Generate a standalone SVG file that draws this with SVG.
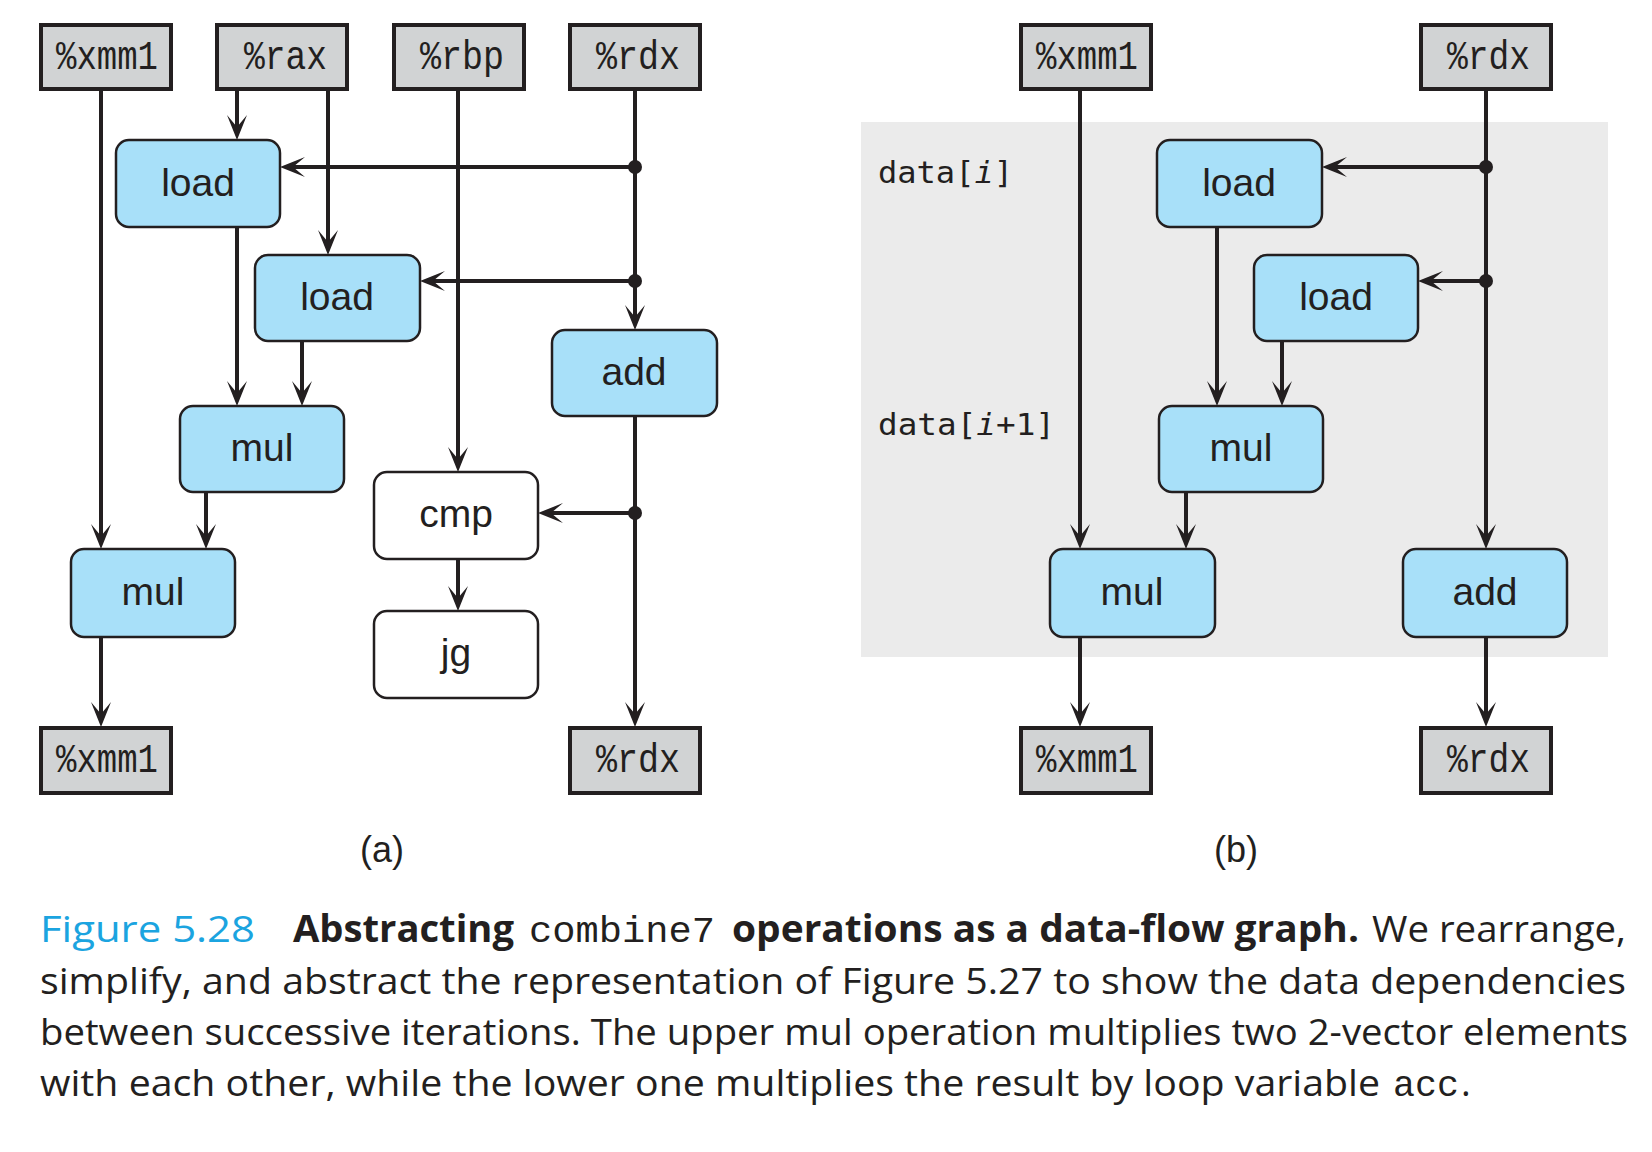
<svg xmlns="http://www.w3.org/2000/svg" width="1652" height="1152" viewBox="0 0 1652 1152">
<defs>
<style>
.reg rect{fill:#D1D3D4;stroke:#231F20;stroke-width:4}
.reg text{font-family:"Liberation Mono","DejaVu Sans Mono",monospace;font-size:40px;fill:#231F20}
.op rect{fill:#A8E0F9;stroke:#231F20;stroke-width:2.5}
.wop rect{fill:#FFFFFF;stroke:#231F20;stroke-width:2.5}
.op text,.wop text{font-family:"Liberation Sans",Arial,sans-serif;font-size:39px;fill:#231F20;text-anchor:middle}
.edges line{stroke:#231F20;stroke-width:4;fill:none}
.edges .a{marker-end:url(#ah)}
.dot{fill:#231F20}
.lbl{font-family:"DejaVu Sans Mono",monospace;font-size:31px;fill:#231F20}
.sub{font-family:"Liberation Sans",Arial,sans-serif;font-size:36px;fill:#231F20;text-anchor:middle}
.cap{font-family:"Open Sans","Noto Sans",sans-serif;font-size:37px;fill:#231F20}
.capb{font-family:"Open Sans","Noto Sans",sans-serif;font-size:37px;font-weight:bold;fill:#231F20}
.capm{font-family:"Liberation Mono","DejaVu Sans Mono",monospace;font-size:37px;fill:#231F20}
</style>
<marker id="ah" markerUnits="userSpaceOnUse" markerWidth="30" markerHeight="24" viewBox="-2 -12 30 24" refX="13" refY="0" orient="auto" overflow="visible">
<path d="M25,0 L0,-10 L12,0 L0,10 Z" fill="#231F20"/>
</marker>
</defs>
<rect width="1652" height="1152" fill="#FFFFFF"/>
<rect id="panel-b" x="861" y="122" width="747" height="535" fill="#EBEBEB"/>

<g class="edges" id="connectors">
<!-- panel a -->
<line class="a" x1="101" y1="89" x2="101" y2="537"/>
<line class="a" x1="237" y1="89" x2="237" y2="128"/>
<line class="a" x1="328" y1="89" x2="328" y2="243"/>
<line class="a" x1="458" y1="89" x2="458" y2="460"/>
<line class="a" x1="635" y1="89" x2="635" y2="318"/>
<line class="a" x1="635" y1="167" x2="292" y2="167"/>
<line class="a" x1="635" y1="281" x2="432" y2="281"/>
<line class="a" x1="237" y1="227" x2="237" y2="394"/>
<line class="a" x1="302" y1="341" x2="302" y2="394"/>
<line class="a" x1="206" y1="492" x2="206" y2="537"/>
<line class="a" x1="101" y1="637" x2="101" y2="715"/>
<line class="a" x1="635" y1="416" x2="635" y2="715"/>
<line class="a" x1="635" y1="513" x2="550" y2="513"/>
<line class="a" x1="458" y1="559" x2="458" y2="599"/>
<!-- panel b -->
<line class="a" x1="1080" y1="89" x2="1080" y2="537"/>
<line class="a" x1="1486" y1="89" x2="1486" y2="537"/>
<line class="a" x1="1486" y1="167" x2="1334" y2="167"/>
<line class="a" x1="1486" y1="281" x2="1430" y2="281"/>
<line class="a" x1="1217" y1="227" x2="1217" y2="394"/>
<line class="a" x1="1282" y1="341" x2="1282" y2="394"/>
<line class="a" x1="1186" y1="492" x2="1186" y2="537"/>
<line class="a" x1="1080" y1="637" x2="1080" y2="715"/>
<line class="a" x1="1486" y1="637" x2="1486" y2="715"/>
<circle class="dot" cx="635" cy="167" r="7"/>
<circle class="dot" cx="635" cy="281" r="7"/>
<circle class="dot" cx="635" cy="513" r="7"/>
<circle class="dot" cx="1486" cy="167" r="7"/>
<circle class="dot" cx="1486" cy="281" r="7"/>
</g>

<!-- panel a nodes -->
<g class="reg" id="a-xmm1-in"><rect x="41" y="25" width="130" height="64"/><text x="56" y="69" textLength="102" lengthAdjust="spacingAndGlyphs">%xmm1</text></g>
<g class="reg" id="a-rax-in"><rect x="217" y="25" width="130" height="64"/><text x="244" y="69" textLength="83" lengthAdjust="spacingAndGlyphs">%rax</text></g>
<g class="reg" id="a-rbp-in"><rect x="394" y="25" width="130" height="64"/><text x="420" y="69" textLength="84" lengthAdjust="spacingAndGlyphs">%rbp</text></g>
<g class="reg" id="a-rdx-in"><rect x="570" y="25" width="130" height="64"/><text x="596" y="69" textLength="84" lengthAdjust="spacingAndGlyphs">%rdx</text></g>

<g class="op" id="a-load1"><rect x="116" y="140" width="164" height="87" rx="13"/><text x="198" y="196">load</text></g>
<g class="op" id="a-load2"><rect x="255" y="255" width="165" height="86" rx="13"/><text x="337" y="310">load</text></g>
<g class="op" id="a-add"><rect x="552" y="330" width="165" height="86" rx="13"/><text x="634" y="385">add</text></g>
<g class="op" id="a-mul1"><rect x="180" y="406" width="164" height="86" rx="13"/><text x="262" y="461">mul</text></g>
<g class="op" id="a-mul2"><rect x="71" y="549" width="164" height="88" rx="13"/><text x="153" y="605">mul</text></g>
<g class="wop" id="a-cmp"><rect x="374" y="472" width="164" height="87" rx="13"/><text x="456" y="527">cmp</text></g>
<g class="wop" id="a-jg"><rect x="374" y="611" width="164" height="87" rx="13"/><text x="456" y="666">jg</text></g>

<g class="reg" id="a-xmm1-out"><rect x="41" y="728" width="130" height="65"/><text x="56" y="772" textLength="102" lengthAdjust="spacingAndGlyphs">%xmm1</text></g>
<g class="reg" id="a-rdx-out"><rect x="570" y="728" width="130" height="65"/><text x="596" y="772" textLength="84" lengthAdjust="spacingAndGlyphs">%rdx</text></g>

<!-- panel b nodes -->
<g class="reg" id="b-xmm1-in"><rect x="1021" y="25" width="130" height="64"/><text x="1036" y="69" textLength="102" lengthAdjust="spacingAndGlyphs">%xmm1</text></g>
<g class="reg" id="b-rdx-in"><rect x="1421" y="25" width="130" height="64"/><text x="1447" y="69" textLength="83" lengthAdjust="spacingAndGlyphs">%rdx</text></g>

<g class="op" id="b-load1"><rect x="1157" y="140" width="165" height="87" rx="13"/><text x="1239" y="196">load</text></g>
<g class="op" id="b-load2"><rect x="1254" y="255" width="164" height="86" rx="13"/><text x="1336" y="310">load</text></g>
<g class="op" id="b-mul1"><rect x="1159" y="406" width="164" height="86" rx="13"/><text x="1241" y="461">mul</text></g>
<g class="op" id="b-mul2"><rect x="1050" y="549" width="165" height="88" rx="13"/><text x="1132" y="605">mul</text></g>
<g class="op" id="b-add"><rect x="1403" y="549" width="164" height="88" rx="13"/><text x="1485" y="605">add</text></g>

<g class="reg" id="b-xmm1-out"><rect x="1021" y="728" width="130" height="65"/><text x="1036" y="772" textLength="102" lengthAdjust="spacingAndGlyphs">%xmm1</text></g>
<g class="reg" id="b-rdx-out"><rect x="1421" y="728" width="130" height="65"/><text x="1447" y="772" textLength="83" lengthAdjust="spacingAndGlyphs">%rdx</text></g>

<text class="lbl" x="878" y="183" textLength="135" lengthAdjust="spacingAndGlyphs">data[<tspan font-style="italic">i</tspan>]</text>
<text class="lbl" x="878" y="435" textLength="177" lengthAdjust="spacingAndGlyphs">data[<tspan font-style="italic">i</tspan>+1]</text>

<text class="sub" x="382" y="862">(a)</text>
<text class="sub" x="1236" y="862">(b)</text>

<!-- caption -->
<g id="caption">
<text class="cap" x="40" y="942" style="fill:#1BA4E0" textLength="215" lengthAdjust="spacingAndGlyphs">Figure 5.28</text>
<text class="capb" x="293" y="942" textLength="221" lengthAdjust="spacingAndGlyphs">Abstracting</text>
<text class="capm" x="529" y="942" textLength="186" lengthAdjust="spacingAndGlyphs">combine7</text>
<text class="capb" x="732" y="942" textLength="627" lengthAdjust="spacingAndGlyphs">operations as a data-flow graph.</text>
<text class="cap" x="1372" y="942" textLength="254" lengthAdjust="spacingAndGlyphs">We rearrange,</text>
<text class="cap" x="40" y="994" textLength="1586" lengthAdjust="spacingAndGlyphs">simplify, and abstract the representation of Figure 5.27 to show the data dependencies</text>
<text class="cap" x="40" y="1045" textLength="1588" lengthAdjust="spacingAndGlyphs">between successive iterations. The upper mul operation multiplies two 2-vector elements</text>
<text class="cap" x="40" y="1096" textLength="1340" lengthAdjust="spacingAndGlyphs">with each other, while the lower one multiplies the result by loop variable</text>
<text class="capm" x="1393" y="1096" textLength="66" lengthAdjust="spacingAndGlyphs">acc</text>
<text class="cap" x="1461" y="1096">.</text>
</g>
</svg>
